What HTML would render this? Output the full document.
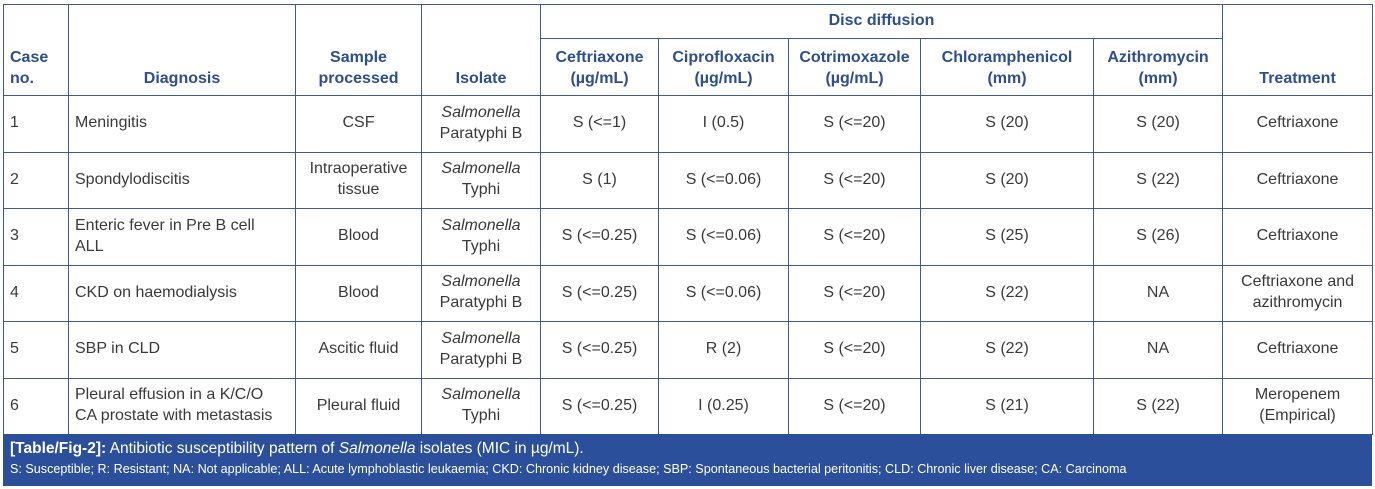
<!DOCTYPE html>
<html><head><meta charset="utf-8"><style>
body{margin:0;background:#fff;width:1375px;height:489px;overflow:hidden;font-family:"Liberation Sans",sans-serif;}
table{position:absolute;left:3px;top:4px;border-collapse:collapse;table-layout:fixed;width:1369px;}
td,th{border:1.5px solid #3b5b9b;padding:0 6px;font-size:16px;color:#3a3a3a;text-align:center;line-height:1.3;}
th{color:#2d4f8e;font-weight:bold;vertical-align:bottom;padding-bottom:5px;font-size:16px}
th.dd{vertical-align:middle;padding-bottom:0}
td.l,th.l{text-align:left}
tr.d td{height:55.5px;padding-top:0;padding-bottom:0}
i{font-style:italic}
.foot{position:absolute;left:3px;top:434px;width:1369px;height:52px;background:#2b4f9b;color:#fff;box-sizing:border-box;padding:4px 7px;}
.foot .a{font-size:15.5px;line-height:21px}
.foot .b{font-size:12.6px;line-height:20px;white-space:nowrap}
</style></head><body>
<table>
<colgroup><col style="width:65px"><col style="width:227px"><col style="width:126px"><col style="width:119px"><col style="width:118px"><col style="width:130px"><col style="width:132px"><col style="width:173px"><col style="width:129px"><col style="width:150px"></colgroup>
<tr style="height:34px"><th rowspan="2" class="l">Case<br>no.</th><th rowspan="2">Diagnosis</th><th rowspan="2">Sample<br>processed</th><th rowspan="2">Isolate</th><th colspan="5" class="dd">Disc diffusion</th><th rowspan="2">Treatment</th></tr>
<tr style="height:57px"><th>Ceftriaxone<br>(µg/mL)</th><th>Ciprofloxacin<br>(µg/mL)</th><th>Cotrimoxazole<br>(µg/mL)</th><th>Chloramphenicol<br>(mm)</th><th>Azithromycin<br>(mm)</th></tr>
<tr class="d"><td class="l">1</td><td class="l">Meningitis</td><td>CSF</td><td><i>Salmonella</i><br>Paratyphi B</td><td>S (&lt;=1)</td><td>I (0.5)</td><td>S (&lt;=20)</td><td>S (20)</td><td>S (20)</td><td>Ceftriaxone</td></tr>
<tr class="d"><td class="l">2</td><td class="l">Spondylodiscitis</td><td>Intraoperative<br>tissue</td><td><i>Salmonella</i><br>Typhi</td><td>S (1)</td><td>S (&lt;=0.06)</td><td>S (&lt;=20)</td><td>S (20)</td><td>S (22)</td><td>Ceftriaxone</td></tr>
<tr class="d"><td class="l">3</td><td class="l">Enteric fever in Pre B cell<br>ALL</td><td>Blood</td><td><i>Salmonella</i><br>Typhi</td><td>S (&lt;=0.25)</td><td>S (&lt;=0.06)</td><td>S (&lt;=20)</td><td>S (25)</td><td>S (26)</td><td>Ceftriaxone</td></tr>
<tr class="d"><td class="l">4</td><td class="l">CKD on haemodialysis</td><td>Blood</td><td><i>Salmonella</i><br>Paratyphi B</td><td>S (&lt;=0.25)</td><td>S (&lt;=0.06)</td><td>S (&lt;=20)</td><td>S (22)</td><td>NA</td><td>Ceftriaxone and<br>azithromycin</td></tr>
<tr class="d"><td class="l">5</td><td class="l">SBP in CLD</td><td>Ascitic fluid</td><td><i>Salmonella</i><br>Paratyphi B</td><td>S (&lt;=0.25)</td><td>R (2)</td><td>S (&lt;=20)</td><td>S (22)</td><td>NA</td><td>Ceftriaxone</td></tr>
<tr class="d"><td class="l">6</td><td class="l">Pleural effusion in a K/C/O<br>CA prostate with metastasis</td><td>Pleural fluid</td><td><i>Salmonella</i><br>Typhi</td><td>S (&lt;=0.25)</td><td>I (0.25)</td><td>S (&lt;=20)</td><td>S (21)</td><td>S (22)</td><td>Meropenem<br>(Empirical)</td></tr>
</table>
<div class="foot"><div class="a"><b>[Table/Fig-2]:</b> Antibiotic susceptibility pattern of <i>Salmonella</i> isolates (MIC in µg/mL).</div>
<div class="b">S: Susceptible; R: Resistant; NA: Not applicable; ALL: Acute lymphoblastic leukaemia; CKD: Chronic kidney disease; SBP: Spontaneous bacterial peritonitis; CLD: Chronic liver disease; CA: Carcinoma</div></div>
</body></html>
